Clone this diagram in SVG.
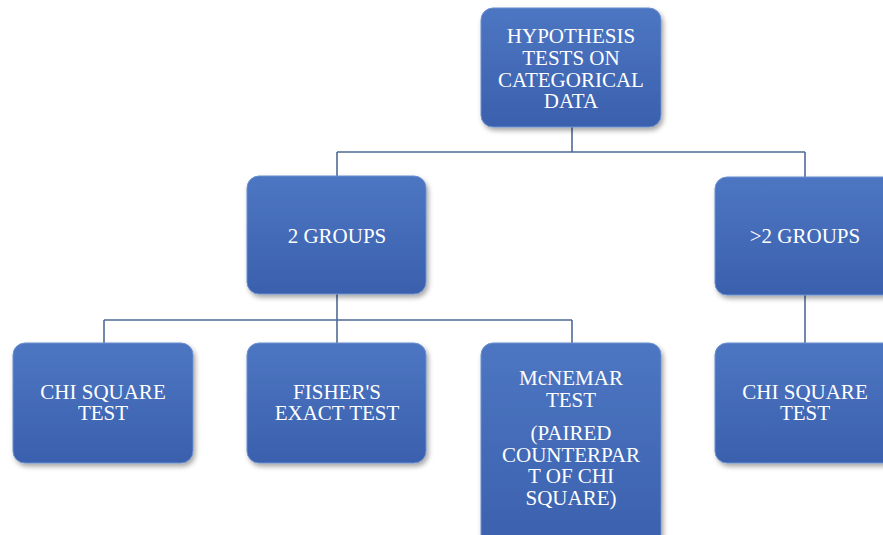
<svg xmlns="http://www.w3.org/2000/svg" width="883" height="535" viewBox="0 0 883 535">
<defs>
<linearGradient id="g" x1="0" y1="0" x2="0" y2="1">
<stop offset="0" stop-color="#4d76c2"/>
<stop offset="1" stop-color="#3a60ad"/>
</linearGradient>
<filter id="sh" x="-10%" y="-10%" width="125%" height="125%">
<feDropShadow dx="2" dy="3" stdDeviation="2.5" flood-color="#000" flood-opacity="0.35"/>
</filter>
</defs>
<style>
.box{fill:url(#g);stroke:#6a8fd0;stroke-width:1;filter:url(#sh)}
text{font-family:'Liberation Serif','DejaVu Serif',serif;font-size:21px;fill:#ffffff;text-anchor:middle}
.c{stroke:#4f6b96;stroke-width:1.6;fill:none}
</style>
<rect width="883" height="535" fill="#ffffff"/>
<g id="connectors">
<path class="c" d="M572 127 V152 M337 152 H805 M337 152 V176 M805 152 V177"/>
<path class="c" d="M337 294 V320 M104 320 H572 M104 320 V343 M337 320 V343 M572 320 V343"/>
<path class="c" d="M805 295 V343"/>
</g>
<g id="root" font-family="Liberation Serif, DejaVu Serif, serif">
<rect class="box" x="481" y="8" width="180" height="119" rx="12"/>
<text x="571" y="43">HYPOTHESIS</text>
<text x="571" y="65">TESTS ON</text>
<text x="571" y="87">CATEGORICAL</text>
<text x="571" y="108">DATA</text>
</g>
<g id="two-groups" font-family="Liberation Serif, DejaVu Serif, serif">
<rect class="box" x="247" y="176" width="179" height="118" rx="12"/>
<text x="337" y="243">2 GROUPS</text>
</g>
<g id="more-groups" font-family="Liberation Serif, DejaVu Serif, serif">
<rect class="box" x="715" y="177" width="180" height="118" rx="12"/>
<text x="805" y="243">&gt;2 GROUPS</text>
</g>
<g id="chi-square-1" font-family="Liberation Serif, DejaVu Serif, serif">
<rect class="box" x="13" y="343" width="180" height="120" rx="12"/>
<text x="103" y="399">CHI SQUARE</text>
<text x="103" y="420">TEST</text>
</g>
<g id="fisher" font-family="Liberation Serif, DejaVu Serif, serif">
<rect class="box" x="247" y="343" width="179" height="120" rx="12"/>
<text x="337" y="399">FISHER'S</text>
<text x="337" y="420">EXACT TEST</text>
</g>
<g id="mcnemar" font-family="Liberation Serif, DejaVu Serif, serif">
<rect class="box" x="481" y="343" width="180" height="210" rx="12"/>
<text x="571" y="385">McNEMAR</text>
<text x="571" y="407">TEST</text>
<text x="571" y="440">(PAIRED</text>
<text x="571" y="462">COUNTERPAR</text>
<text x="571" y="483">T OF CHI</text>
<text x="571" y="505">SQUARE)</text>
</g>
<g id="chi-square-2" font-family="Liberation Serif, DejaVu Serif, serif">
<rect class="box" x="715" y="343" width="180" height="120" rx="12"/>
<text x="805" y="399">CHI SQUARE</text>
<text x="805" y="420">TEST</text>
</g>
</svg>
